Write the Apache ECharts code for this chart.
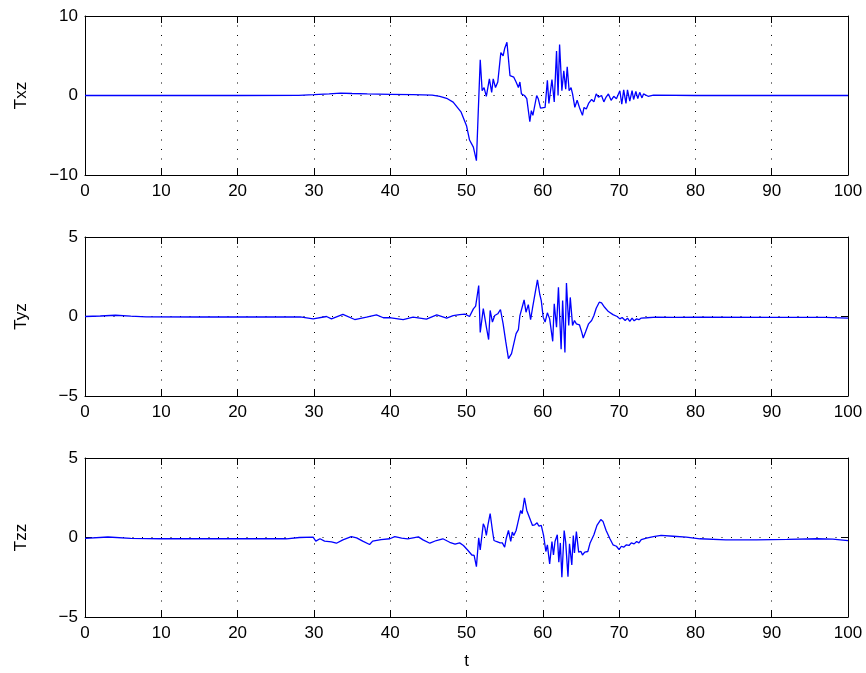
<!DOCTYPE html>
<html>
<head>
<meta charset="utf-8">
<script src="https://cdn.jsdelivr.net/npm/echarts@6/dist/echarts.min.js"></script>
<style>
html,body{margin:0;padding:0;background:#fff;}
#chart{width:866px;height:673px;}
</style>
</head>
<body>
<div id="chart"></div>
<script>
// ---- data (t, value) ----
var txz = [[0,0],[10,0],[20,0],[28,0.02],[30,0.1],[32,0.2],[33.5,0.3],[35,0.25],[37,0.2],[40,0.15],[43,0.1],[45.5,0.05],[46.5,-0.1],[47.5,-0.4],[48.25,-0.84],[49.3,-2.1],[50.0,-3.8],[50.4,-5.6],[50.9,-6.5],[51.3,-8.2],[51.5,-3.1],[51.8,4.5],[52.05,0.6],[52.3,1.0],[52.6,-0.1],[53.0,2.1],[53.3,0.4],[53.5,2.1],[53.8,1.0],[54.1,1.7],[54.5,5.4],[54.8,5.0],[55.0,5.9],[55.3,6.7],[55.7,2.5],[55.9,2.7],[56.2,2.3],[56.5,1.7],[56.8,1.0],[57.0,1.7],[57.2,0.2],[57.6,0],[57.9,-0.4],[58.3,-3.3],[58.5,-1.9],[58.7,-2.5],[59.2,0],[59.4,-0.4],[59.7,-1.6],[60.3,-1.5],[60.6,1.9],[60.8,-1.0],[61.2,2.0],[61.5,-0.8],[61.8,5.6],[62.0,0],[62.2,6.4],[62.5,0.6],[62.75,3.1],[63.0,0.8],[63.2,3.6],[63.45,0.6],[63.7,1.0],[63.9,0.2],[64.2,-1.5],[64.5,-0.6],[64.8,-1.5],[65.2,-2.5],[65.4,-1.5],[65.7,-1.7],[66.0,-1.0],[66.4,-0.5],[66.7,-0.8],[67.0,0.2],[67.3,-0.2],[67.7,0],[68.0,-0.8],[68.3,-0.2],[68.6,0.2],[68.95,-0.6],[69.3,-0.1],[69.65,-0.4],[70.1,0.6],[70.35,-1.1],[70.6,0.7],[70.9,-1.0],[71.1,0.7],[71.4,-0.7],[71.7,0.6],[71.9,-0.5],[72.2,0.5],[72.45,-0.4],[72.7,0.4],[73.0,-0.3],[73.2,0.2],[73.8,-0.1],[74.5,0.05],[80,0],[90,0],[100,0]];

var tyz = [[0,0],[2,0.03],[4,0.08],[6,0.02],[8,-0.02],[15,-0.03],[28.2,-0.03],[29.9,-0.15],[31.65,0],[32.3,-0.15],[33.8,0.13],[35.35,-0.19],[36.9,-0.04],[38.2,0.1],[39.1,-0.08],[40.1,-0.08],[41.7,-0.19],[43.0,-0.04],[44.75,-0.17],[46.1,0.1],[47.4,-0.1],[48.25,0.06],[49.1,0.12],[49.8,0.15],[50.4,0],[50.9,0.48],[51.2,0.65],[51.6,1.95],[51.8,-1.0],[52.2,0.5],[52.4,0.45],[52.6,-0.65],[52.9,-1.45],[53.1,0.38],[53.4,-0.35],[53.7,0.06],[54.1,0.17],[54.45,0.44],[54.8,-0.46],[55.15,-1.6],[55.5,-2.65],[55.9,-2.33],[56.2,-1.7],[56.5,-1.08],[56.8,-0.83],[57.0,0.06],[57.25,-0.04],[57.55,1.04],[57.8,0.27],[58.1,0.75],[58.4,-0.2],[58.65,0.52],[58.9,0.52],[59.3,2.3],[59.6,1.4],[59.8,1.0],[60.05,-0.04],[60.3,-0.35],[60.6,0.23],[60.9,-0.15],[61.3,-1.56],[61.5,0.8],[61.8,-0.67],[62.05,1.83],[62.4,-2.06],[62.6,1.0],[62.9,-2.27],[63.1,2.1],[63.4,-0.56],[63.6,1.2],[63.9,-0.56],[64.15,-0.25],[64.4,-0.46],[64.8,-0.52],[65.1,-0.98],[65.3,-1.35],[65.6,-0.98],[66.0,-0.46],[66.4,-0.25],[66.7,0.06],[67.0,0.52],[67.4,0.9],[67.7,0.85],[68.1,0.58],[68.6,0.31],[69.2,0.12],[69.75,0],[70.1,-0.15],[70.4,-0.06],[70.8,-0.25],[71.1,-0.1],[71.4,-0.31],[71.7,-0.1],[71.97,-0.27],[72.3,-0.15],[72.6,-0.2],[72.9,-0.1],[73.6,-0.08],[74.9,-0.04],[77.1,-0.06],[80.6,-0.04],[90,-0.05],[97,-0.06],[100,-0.1]];

var tzz = [[0,-0.05],[3,0.03],[6,-0.05],[10,-0.08],[20,-0.08],[26.4,-0.08],[28.1,0],[29.9,0.02],[30.25,-0.23],[30.8,-0.08],[31.4,-0.23],[32.3,-0.27],[32.95,-0.36],[33.8,-0.15],[34.9,0.06],[35.6,-0.02],[36.4,-0.23],[37.3,-0.44],[37.7,-0.23],[38.8,-0.13],[39.95,-0.08],[40.6,0.06],[41.5,-0.04],[42.3,-0.08],[43.7,0.04],[44.3,-0.15],[45.2,-0.36],[46.05,-0.19],[46.9,-0.08],[47.8,-0.3],[48.5,-0.42],[49.1,-0.34],[49.6,-0.5],[50.2,-0.82],[50.7,-1.1],[51.0,-1.13],[51.3,-1.83],[51.6,-0.02],[51.8,-0.78],[52.2,0.86],[52.4,0.65],[52.6,0.13],[52.8,0.76],[53.1,1.5],[53.4,0.44],[53.6,-0.19],[53.9,-0.25],[54.4,-0.34],[54.7,-0.34],[55.0,-0.61],[55.2,-0.08],[55.5,0.44],[55.8,-0.25],[56.0,0.34],[56.2,0.13],[56.5,0.44],[56.7,0.86],[56.9,0.76],[57.1,1.7],[57.3,1.5],[57.6,2.5],[57.9,1.7],[58.1,1.7],[58.4,1.07],[58.65,0.76],[58.95,0.8],[59.25,0.92],[59.5,0.71],[59.8,0.76],[60.1,0.13],[60.4,-0.88],[60.6,-0.46],[60.9,-1.66],[61.2,-0.25],[61.4,-1.1],[61.6,-0.25],[61.9,0.17],[62.1,-1.55],[62.3,-0.34],[62.5,-2.5],[62.8,0.44],[63.0,-0.29],[63.3,-2.46],[63.5,-0.4],[63.8,-1.72],[64.0,0.13],[64.15,-0.97],[64.4,0.38],[64.7,-0.92],[65.0,-0.88],[65.2,-1.1],[65.5,-0.92],[65.9,-0.88],[66.2,-0.34],[66.7,0.17],[67.1,0.76],[67.6,1.13],[67.9,1.0],[68.3,0.44],[68.8,-0.08],[69.2,-0.46],[69.65,-0.55],[70.0,-0.76],[70.3,-0.55],[70.6,-0.61],[70.96,-0.46],[71.3,-0.5],[71.6,-0.34],[71.97,-0.4],[72.3,-0.25],[72.6,-0.34],[72.9,-0.13],[73.6,-0.04],[74.5,0.06],[75.5,0.13],[77.1,0.08],[78.8,0.02],[80.6,-0.08],[84,-0.15],[88,-0.15],[92,-0.12],[96,-0.08],[98,-0.1],[100,-0.2]];

var panelNames = ['Txz', 'Tyz', 'Tzz'];
var panelData = [txz, tyz, tzz];
var yLimits = [[-10, 10], [-5, 5], [-5, 5]];
var yIntervals = [10, 5, 5];
var xLimits = [0, 100];
var xInterval = 10;
var xName = 't';

// ---- layout / style ----
var FONT = 'Liberation Sans, Arial, Helvetica, sans-serif';
var FS = 17;
var tops = [16, 237, 458];
var plotH = 159;
function minusFmt(v){ return String(v).replace('-', '\u2212'); }
function dotted(){ return {show: true, lineStyle: {color: '#000', width: 1, type: [1, 8.5]}}; }
function axLine(){ return {show: true, onZero: false, lineStyle: {color: '#000', width: 1}}; }
function axTick(){ return {show: true, inside: true, length: 7, lineStyle: {color: '#000', width: 1}}; }
function txt(){ return {color: '#000', fontFamily: FONT, fontSize: FS}; }

var grids = [], xAxes = [], yAxes = [], series = [];
for (var i = 0; i < 3; i++) {
  grids.push({left: 85, right: 18, top: tops[i], height: plotH, containLabel: false});
  xAxes.push({
    gridIndex: i, type: 'value', min: xLimits[0], max: xLimits[1], interval: xInterval,
    position: 'bottom', axisLine: axLine(), axisTick: axTick(),
    axisLabel: {show: true, color: '#000', fontFamily: FONT, fontSize: FS, margin: 8, formatter: minusFmt},
    splitLine: dotted(),
    name: i === 2 ? xName : '', nameLocation: 'middle', nameGap: 36, nameTextStyle: txt()
  });
  xAxes.push({
    gridIndex: i, type: 'value', min: xLimits[0], max: xLimits[1], interval: xInterval,
    position: 'top', axisLine: axLine(), axisTick: axTick(),
    axisLabel: {show: false}, splitLine: {show: false}
  });
  yAxes.push({
    gridIndex: i, type: 'value', min: yLimits[i][0], max: yLimits[i][1], interval: yIntervals[i],
    position: 'left', axisLine: axLine(), axisTick: axTick(),
    axisLabel: {show: true, color: '#000', fontFamily: FONT, fontSize: FS, margin: 7, formatter: minusFmt},
    splitLine: dotted(),
    name: panelNames[i], nameLocation: 'middle', nameGap: 55, nameRotate: 90, nameTextStyle: txt()
  });
  yAxes.push({
    gridIndex: i, type: 'value', min: yLimits[i][0], max: yLimits[i][1], interval: yIntervals[i],
    position: 'right', axisLine: axLine(), axisTick: axTick(),
    axisLabel: {show: false}, splitLine: {show: false}
  });
  series.push({
    type: 'line', xAxisIndex: 2 * i, yAxisIndex: 2 * i,
    data: panelData[i], showSymbol: false, symbol: 'none',
    lineStyle: {color: '#0000ff', width: 1.3}, z: 5
  });
}

var chart = echarts.init(document.getElementById('chart'), null, {renderer: 'canvas'});
chart.setOption({
  animation: false,
  backgroundColor: '#fff',
  grid: grids, xAxis: xAxes, yAxis: yAxes, series: series
});
</script>
</body>
</html>
